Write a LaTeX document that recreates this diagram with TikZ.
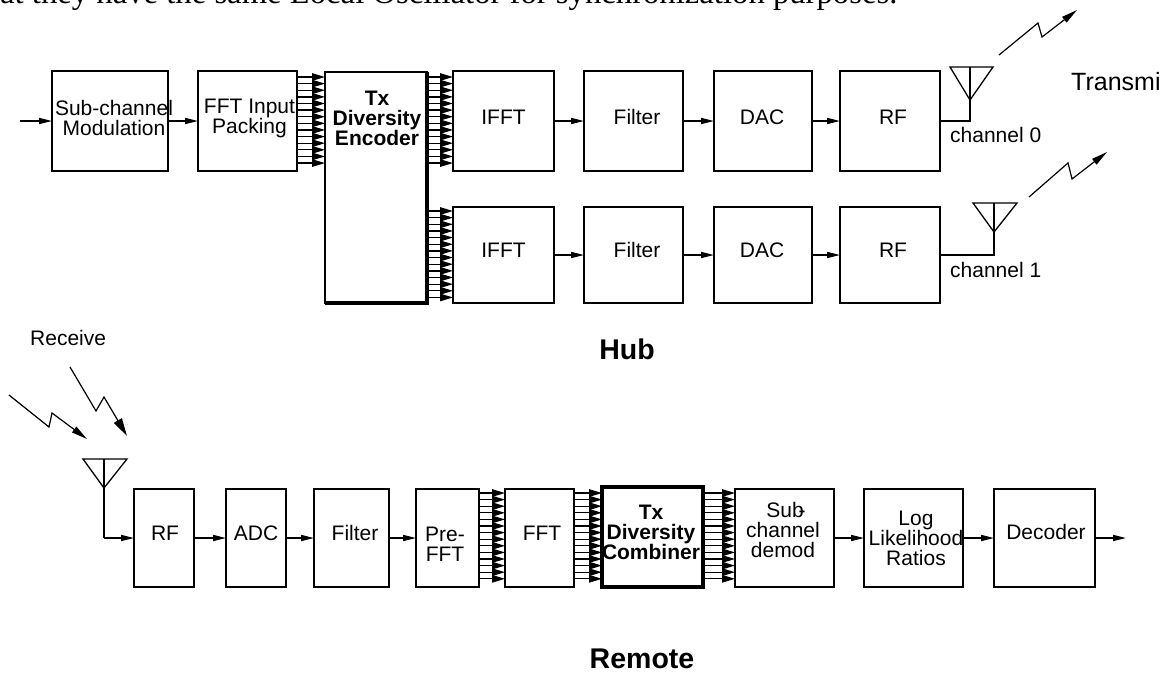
\documentclass[tikz,border=0pt]{standalone}
\usepackage{fontspec}
\setmainfont{Liberation Sans}
\newfontfamily\bodyserif{Liberation Serif}
\usetikzlibrary{arrows.meta}
\tikzset{
  blockbox/.style={draw,line width=1.5pt,inner sep=0pt,outer sep=0pt},
  blocktxt/.style={inner sep=0pt,align=center,font=\fontsize{21}{20}\selectfont},
  boldtxt/.style={inner sep=0pt,align=center,font=\fontsize{21}{20}\selectfont\bfseries},
  titletxt/.style={inner sep=0pt,font=\fontsize{28.5}{30}\selectfont\bfseries},
  flow/.style={line width=1.5pt,-{Triangle[length=13pt,width=6pt]}},
  busflow/.style={line width=1.3pt,-{Triangle[length=13pt,width=7.5pt]}},
  bolt/.style={line width=1.2pt,-{Triangle[length=16pt,width=7pt]}},
  antenna/.style={line width=1.3pt}
}
\begin{document}
\begin{tikzpicture}[x=1pt,y=-1pt]
    \useasboundingbox (0,0) rectangle (1167,673);
    \node[inner sep=0pt,anchor=base west,font=\fontsize{32.7}{36}\selectfont\bodyserif] (para) at (0,3) {at they have the same Local Oscillator for synchronization purposes.};

    % hub blocks
    \node[blockbox,minimum width=116pt,minimum height=100pt] (sub) at (110,121) {};
    \node[blockbox,minimum width=99pt,minimum height=100pt] (fftin) at (247.5,121) {};
    \node[blockbox,minimum width=102pt,minimum height=231pt] (enc) at (376,187.5) {};
    \node[blockbox,minimum width=101pt,minimum height=100pt] (ifftA) at (503.5,121) {};
    \node[blockbox,minimum width=99pt,minimum height=100pt] (filtA) at (633.5,121) {};
    \node[blockbox,minimum width=98pt,minimum height=100pt] (dacA) at (763,121) {};
    \node[blockbox,minimum width=100pt,minimum height=100pt] (rfA) at (890,121) {};
    \node[blockbox,minimum width=101pt,minimum height=96pt] (ifftB) at (503.5,255) {};
    \node[blockbox,minimum width=99pt,minimum height=96pt] (filtB) at (633.5,255) {};
    \node[blockbox,minimum width=98pt,minimum height=96pt] (dacB) at (763,255) {};
    \node[blockbox,minimum width=100pt,minimum height=96pt] (rfB) at (890,255) {};
    \draw[line width=3.5pt] (enc.north east) -- (enc.south east) -- (enc.south west);

    \node[blocktxt] (subtxt) at (114,118) {Sub-channel\\Modulation};
    \node[blocktxt] (fftintxt) at (249.5,118) {FFT Input\\Packing};
    \node[boldtxt] (enctxt) at (377,118) {Tx\\Diversity\\Encoder};
    \foreach \col/\txt/\xtxt in {ifft/IFFT/503.5,filt/Filter/637,dac/DAC/762,rf/RF/893} {
        \node[blocktxt] (\col txtA) at (\xtxt,117) {\txt};
        \node[blocktxt] (\col txtB) at (\xtxt,250) {\txt};
    }

    % hub connectors
    \coordinate (hubin) at (20,121);
    \draw[flow] (hubin) -- (sub);
    \draw[flow] (sub) -- (fftin.west |- sub);
    \draw[flow] (ifftA) -- (filtA);
    \draw[flow] (filtA) -- (dacA);
    \draw[flow] (dacA) -- (rfA);
    \draw[flow] (ifftB) -- (filtB);
    \draw[flow] (filtB) -- (dacB);
    \draw[flow] (dacB) -- (rfB);
    \foreach \i [evaluate=\i as \ybus using 77+\i*6.62] in {0,...,13} {
        \draw[busflow] (fftin.east |- 0,\ybus) -- (enc.west |- 0,\ybus);
        \draw[busflow] (enc.east |- 0,\ybus) -- (ifftA.west |- 0,\ybus);
    }
    \foreach \i [evaluate=\i as \ybus using 211+\i*6.65] in {0,...,13} {
        \draw[busflow] (enc.east |- 0,\ybus) -- (ifftB.west |- 0,\ybus);
    }

    % transmit antennas
    \coordinate (antA) at (970,100);
    \draw[antenna] (950,67) -- (993,67) -- (antA) -- cycle;
    \draw[antenna] (970,67) -- (antA);
    \draw[antenna] (rfA) ++(50,0) -- (antA |- rfA) -- (antA);
    \coordinate (antB) at (994,232);
    \draw[antenna] (973,203) -- (1017,203) -- (antB) -- cycle;
    \draw[antenna] (994,203) -- (antB);
    \draw[antenna] (rfB) ++(50,0) -- (antB |- rfB) -- (antB);
    \draw[bolt] (999,55) -- (1038,23) -- (1042,37) -- (1077,10);
    \draw[bolt] (1029,197) -- (1068,163) -- (1072,179) -- (1107,152);
    \node[blocktxt,anchor=west] (chanA) at (950,135) {channel 0};
    \node[blocktxt,anchor=west] (chanB) at (950,270) {channel 1};
    \node[inner sep=0pt,anchor=west,font=\fontsize{25}{25}\selectfont] (transmit) at (1071,82) {Transmi};
    \node[titletxt] (hub) at (627,349) {Hub};

    % remote blocks
    \node[blockbox,minimum width=60pt,minimum height=98pt] (rfR) at (164,538) {};
    \node[blockbox,minimum width=60pt,minimum height=98pt] (adc) at (256,538) {};
    \node[blockbox,minimum width=75pt,minimum height=98pt] (filtR) at (351.5,538) {};
    \node[blockbox,minimum width=63pt,minimum height=98pt] (prefft) at (447.5,538) {};
    \node[blockbox,minimum width=69pt,minimum height=98pt] (fft) at (539.5,538) {};
    \node[blockbox,line width=3.5pt,minimum width=101pt,minimum height=100pt] (comb) at (652.5,537) {};
    \node[blockbox,minimum width=99pt,minimum height=98pt] (demod) at (784.5,538) {};
    \node[blockbox,minimum width=99pt,minimum height=98pt] (llr) at (913.5,538) {};
    \node[blockbox,minimum width=101pt,minimum height=98pt] (dec) at (1044.5,538) {};

    \node[blocktxt] (rfRtxt) at (165,533) {RF};
    \node[blocktxt] (adctxt) at (256,533) {ADC};
    \node[blocktxt] (filtRtxt) at (355,533) {Filter};
    \node[blocktxt] (prefftxt) at (445,544) {Pre-\\FFT};
    \node[blocktxt] (ffttxt) at (542,533) {FFT};
    \node[boldtxt] (combtxt) at (651,532) {Tx\\Diversity\\Combiner};
    \node[blocktxt] (demodtxt) at (783,530) {\hspace*{6pt}Sub\kern-5pt-\\channel\\demod};
    \node[blocktxt] (llrtxt) at (916,538) {Log\\Likelihood\\Ratios};
    \node[blocktxt] (dectxt) at (1046,532) {Decoder};

    % remote connectors
    \coordinate (antR) at (104,488);
    \coordinate (remout) at (1126,538);
    \draw[antenna] (83,459) -- (127,459) -- (antR) -- cycle;
    \draw[antenna] (104,459) -- (antR);
    \draw[antenna] (antR) -- (antR |- rfR);
    \draw[flow] (antR |- rfR) -- (rfR);
    \draw[flow] (rfR) -- (adc);
    \draw[flow] (adc) -- (filtR);
    \draw[flow] (filtR) -- (prefft);
    \draw[flow] (demod) -- (llr);
    \draw[flow] (llr) -- (dec);
    \draw[flow] (dec) -- (remout);
    \foreach \src/\dst in {prefft/fft,fft/comb,comb/demod} {
        \foreach \i [evaluate=\i as \ybus using 493+\i*6.6] in {0,...,13} {
            \draw[busflow] (\src.east |- 0,\ybus) -- (\dst.west |- 0,\ybus);
        }
    }
    \draw[bolt] (9,395) -- (49,427) -- (52,413) -- (87,439);
    \draw[bolt,-{Triangle[length=18pt,width=9pt]}] (70,367) -- (96,411) -- (104,397) -- (127,436);
    \node[blocktxt,anchor=west] (receive) at (30,338) {Receive};
    \node[titletxt] (remote) at (642,658.5) {Remote};
\end{tikzpicture}
\end{document}
